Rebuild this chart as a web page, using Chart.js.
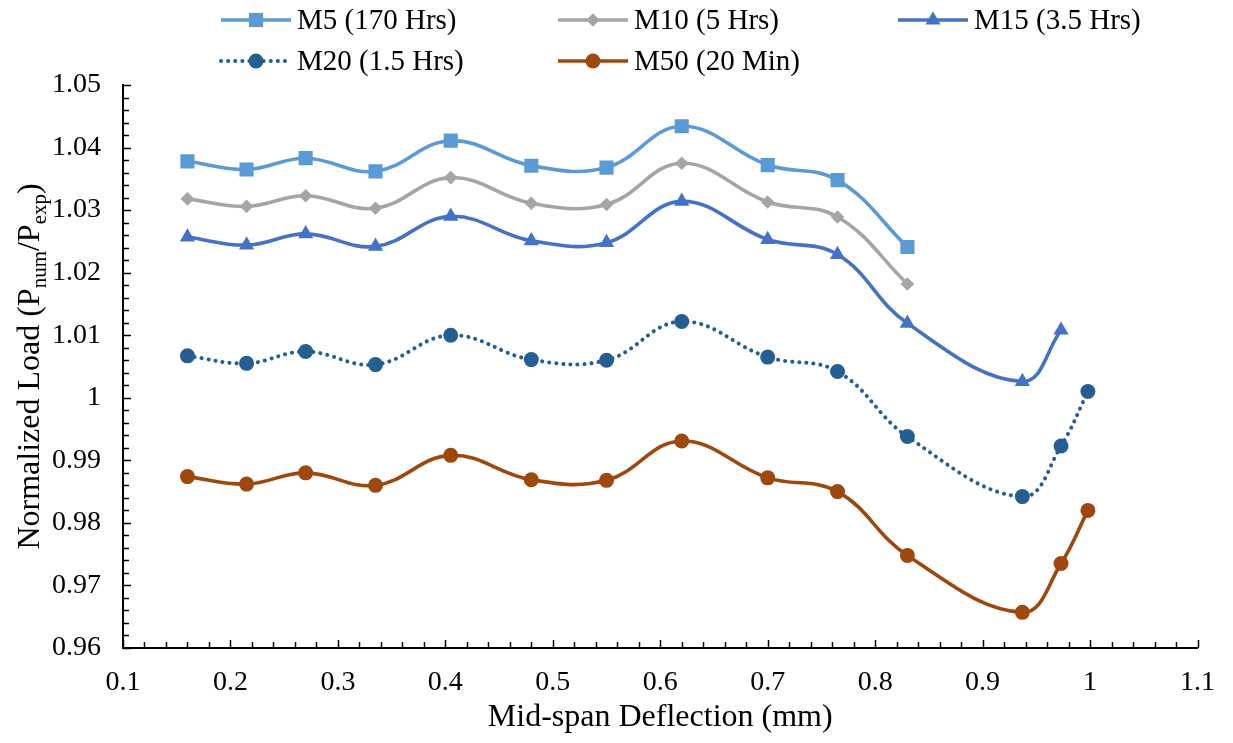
<!DOCTYPE html>
<html>
<head>
<meta charset="utf-8">
<script src="https://cdn.jsdelivr.net/npm/chart.js@4.4.0/dist/chart.umd.min.js"></script>
<style>
  html, body { margin: 0; padding: 0; background: #fff; }
  #wrap { width: 1233px; height: 743px; }
</style>
</head>
<body>
<div id="wrap"><canvas id="myChart" width="1233" height="743"></canvas></div>
<script>
// mid-span deflection (mm), shared by all series
const deflection = [0.16, 0.215, 0.27, 0.335, 0.405, 0.48, 0.55, 0.62, 0.70, 0.765, 0.83, 0.937, 0.973, 0.998]

const seriesNames = ['M5 (170 Hrs)', 'M10 (5 Hrs)', 'M15 (3.5 Hrs)', 'M20 (1.5 Hrs)', 'M50 (20 Min)']

const m5 = [1.0378, 1.0365, 1.0383, 1.0362, 1.0411, 1.0371, 1.0368, 1.0434, 1.0372, 1.0348, 1.0241]
const m10 = [1.0318, 1.0306, 1.0323, 1.0303, 1.0352, 1.0311, 1.0309, 1.0375, 1.0313, 1.0289, 1.0182]
const m15 = [1.0257, 1.0244, 1.0262, 1.0242, 1.0290, 1.0251, 1.0248, 1.0314, 1.0253, 1.0229, 1.0119, 1.0026, 1.0108]
const m20 = [1.0067, 1.0055, 1.0074, 1.0053, 1.0100, 1.0061, 1.0060, 1.0122, 1.0065, 1.0042, 0.9938, 0.9842, 0.9923, 1.0010]
const m50 = [0.9874, 0.9862, 0.9880, 0.9860, 0.9908, 0.9869, 0.9868, 0.9931, 0.9872, 0.9850, 0.9748, 0.9657, 0.9735, 0.9820]

const xTicks = [0.1, 0.2, 0.3, 0.4, 0.5, 0.6, 0.7, 0.8, 0.9, 1, 1.1]
const yTicks = [0.96, 0.97, 0.98, 0.99, 1, 1.01, 1.02, 1.03, 1.04, 1.05]

const FONT = "'Liberation Serif', 'Times New Roman', serif"

const toPoints = (vals) => vals.map((v, i) => ({ x: deflection[i], y: v }))

const styles = [
  { color: '#5B9BD5', pointStyle: 'rect', radius: 10, dash: [] },
  { color: '#A5A5A5', pointStyle: 'rectRot', radius: 6.8, dash: [] },
  { color: '#4472C4', pointStyle: 'triangle', radius: 8.8, dash: [] },
  { color: '#255E91', pointStyle: 'circle', radius: 7.5, dash: [0.1, 7] },
  { color: '#9E480E', pointStyle: 'circle', radius: 7.5, dash: [] }
]

const datasets = [m5, m10, m15, m20, m50].map((vals, i) => ({
  label: seriesNames[i],
  data: toPoints(vals),
  borderColor: styles[i].color,
  backgroundColor: styles[i].color,
  borderWidth: i === 3 ? 4 : 3.6,
  borderDash: styles[i].dash,
  borderCapStyle: i === 3 ? 'round' : 'butt',
  pointStyle: styles[i].pointStyle,
  pointRadius: styles[i].radius,
  pointHoverRadius: styles[i].radius,
  pointBorderWidth: 0,
  tension: 0.4
}))

// tick marks on the inside of the axes, major and minor
const tickMarks = {
  id: 'tickMarks',
  afterDatasetsDraw(chart) {
    const ctx = chart.ctx
    const x = chart.scales.x
    const y = chart.scales.y
    const area = chart.chartArea
    ctx.save()
    ctx.strokeStyle = '#000'
    ctx.lineWidth = 1.5
    ctx.beginPath()
    for (let k = 0; k <= 45; k++) {
      const py = Math.round(y.getPixelForValue(0.96 + k * 0.002)) + 0.5
      const len = k % 5 === 0 ? 8 : 6
      ctx.moveTo(area.left, py)
      ctx.lineTo(area.left + len, py)
    }
    for (let k = 0; k <= 50; k++) {
      const px = Math.round(x.getPixelForValue(0.1 + k * 0.02)) + 0.5
      const len = k % 5 === 0 ? 8 : 6
      ctx.moveTo(px, area.bottom)
      ctx.lineTo(px, area.bottom - len)
    }
    ctx.stroke()
    ctx.restore()
  }
}

const drawMarker = (ctx, style, cx, cy) => {
  Chart.helpers.drawPoint(ctx, { pointStyle: style.pointStyle, radius: style.radius, rotation: 0, borderWidth: 0 }, cx, cy)
}

// legend: line sample with marker, two rows of three columns
const customLegend = {
  id: 'customLegend',
  afterDraw(chart) {
    const ctx = chart.ctx
    const cols = [221, 558, 898]
    const rows = [20, 61]
    ctx.save()
    ctx.font = '29px ' + FONT
    ctx.textBaseline = 'middle'
    seriesNames.forEach((name, i) => {
      const lx = cols[i % 3]
      const ly = rows[Math.floor(i / 3)]
      const st = styles[i]
      ctx.strokeStyle = st.color
      ctx.fillStyle = st.color
      ctx.lineWidth = i === 3 ? 4 : 3.6
      ctx.lineCap = i === 3 ? 'round' : 'butt'
      ctx.setLineDash(st.dash)
      ctx.beginPath()
      ctx.moveTo(lx, ly)
      ctx.lineTo(lx + 70, ly)
      ctx.stroke()
      ctx.setLineDash([])
      drawMarker(ctx, st, lx + 35, ly)
      ctx.fillStyle = '#000'
      ctx.textAlign = 'left'
      ctx.fillText(name, lx + 76, ly + 1)
    })
    ctx.restore()
  }
}

// y axis title with subscripts
const yTitle = {
  id: 'yTitle',
  afterDraw(chart) {
    const ctx = chart.ctx
    const area = chart.chartArea
    const parts = [
      { t: 'Normalized Load (P', sub: false },
      { t: 'num', sub: true },
      { t: '/P', sub: false },
      { t: 'exp', sub: true },
      { t: ')', sub: false }
    ]
    const big = '32px ' + FONT
    const small = '21px ' + FONT
    ctx.save()
    let total = 0
    parts.forEach((p) => {
      ctx.font = p.sub ? small : big
      p.w = ctx.measureText(p.t).width
      total += p.w
    })
    ctx.translate(29, (area.top + area.bottom) / 2)
    ctx.rotate(-Math.PI / 2)
    ctx.fillStyle = '#000'
    ctx.textBaseline = 'alphabetic'
    let cx = -total / 2
    parts.forEach((p) => {
      ctx.font = p.sub ? small : big
      ctx.fillText(p.t, cx, p.sub ? 17 : 10)
      cx += p.w
    })
    ctx.restore()
  }
}

const config = {
  type: 'line',
  data: { datasets },
  options: {
    responsive: false,
    devicePixelRatio: 1,
    animation: false,
    layout: { padding: { top: 85, right: 22, bottom: 0, left: 0 } },
    scales: {
      x: {
        type: 'linear',
        min: 0.1,
        max: 1.1,
        afterBuildTicks: (scale) => { scale.ticks = xTicks.map((v) => ({ value: v })) },
        afterFit: (scale) => { scale.height = 95 },
        grid: { display: false, drawTicks: false },
        border: { display: true, color: '#000', width: 2 },
        ticks: {
          color: '#000',
          padding: 18,
          font: { family: FONT, size: 28 },
          maxRotation: 0,
          callback: (v) => String(Number(v.toFixed(2)))
        },
        title: {
          display: true,
          text: 'Mid-span Deflection (mm)',
          color: '#000',
          font: { family: FONT, size: 32 },
          padding: { top: 0, bottom: 6 }
        }
      },
      y: {
        type: 'linear',
        min: 0.96,
        max: 1.05,
        afterBuildTicks: (scale) => { scale.ticks = yTicks.map((v) => ({ value: v })) },
        afterFit: (scale) => { scale.width = 123 },
        grid: { display: false, drawTicks: false },
        border: { display: true, color: '#000', width: 2 },
        ticks: {
          color: '#000',
          padding: 22,
          font: { family: FONT, size: 28 },
          callback: (v) => String(Number(v.toFixed(2)))
        }
      }
    },
    plugins: {
      legend: { display: false },
      tooltip: { enabled: false }
    }
  },
  plugins: [tickMarks, customLegend, yTitle]
}

const myChart = new Chart(document.getElementById('myChart'), config)
</script>
</body>
</html>
